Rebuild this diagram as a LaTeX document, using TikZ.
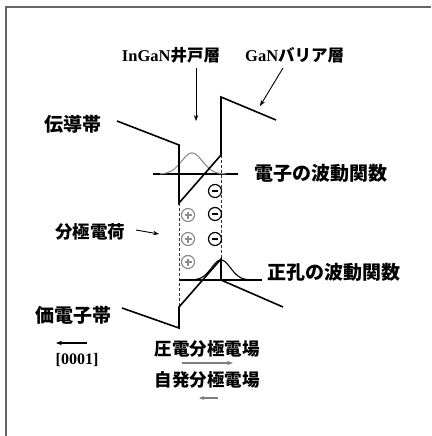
\documentclass[tikz,border=0pt]{standalone}
\usepackage{fontspec}
\setmainfont{Liberation Serif}
\newfontfamily\jp{Noto Sans CJK JP}
\usetikzlibrary{arrows.meta,calc}
\tikzset{
  band/.style={line width=1.6pt, black, line join=miter},
  guide/.style={line width=0.8pt, dashed, dash pattern=on 3pt off 2pt, black!80},
  lbl/.style={inner sep=0pt, font=\jp\bfseries\fontsize{19}{19}\selectfont},
  lblsm/.style={inner sep=0pt, font=\jp\bfseries\fontsize{17.5}{17.5}\selectfont},
  toplbl/.style={inner sep=0pt, font=\bfseries\fontsize{16.5}{16.5}\selectfont},
  ptr/.style={line width=0.9pt, -{Stealth[length=6pt,width=4.5pt]}},
  negcirc/.style={circle, draw=black, line width=1.2pt, minimum size=13pt, inner sep=0pt},
  poscirc/.style={circle, draw=black!45, line width=1.2pt, minimum size=13pt, inner sep=0pt},
}
\begin{document}
\begin{tikzpicture}[x=1pt,y=-1pt]
\useasboundingbox (0,0) rectangle (431,436);
% frame (left and top edges)
\draw[black!60, line width=1.6pt] (6,436) -- (6,7) -- (431,7);

% labels
\node[toplbl] (ingan) at (171,55) {InGaN{\jp 井戸層}};
\node[toplbl, anchor=west] (gan) at (245,55) {GaN{\jp バリア層}};
\node[lbl] (cb) at (72.5,124) {伝導帯};
\node[lbl, anchor=west] (ewf) at (254,173) {電子の波動関数};
\node[lblsm, anchor=west] (pc) at (55,232) {分極電荷};
\node[lbl, anchor=west] (hwf) at (267,272) {正孔の波動関数};
\node[lbl, anchor=west] (vb) at (35,315) {価電子帯};
\node[inner sep=0pt, font=\bfseries\fontsize{16}{16}\selectfont] (dir) at (77,360) {[0001]};
\node[lblsm] (pz) at (207,349) {圧電分極電場};
\node[lblsm] (sp) at (207,380) {自発分極電場};

% arrow coordinates
\coordinate (a1s) at (196,68);  \coordinate (a1e) at (196,121);
\coordinate (a2s) at (283,68);  \coordinate (a2e) at (260,106);
\coordinate (a3s) at (136,230); \coordinate (a3e) at (159,234);
\coordinate (a4s) at (87,343);  \coordinate (a4e) at (56,343);
\coordinate (a5s) at (182,363); \coordinate (a5e) at (233,363);
\coordinate (a6s) at (218,398); \coordinate (a6e) at (199,398);

\draw[ptr] (a1s) -- (a1e);
\draw[ptr] (a2s) -- (a2e);
\draw[ptr] (a3s) -- (a3e);
\draw[ptr, line width=1.3pt] (a4s) -- (a4e);
\draw[ptr, black!50, line width=1.3pt] (a5s) -- (a5e);
\draw[ptr, black!50, line width=1.1pt, -{Stealth[length=5pt,width=4pt]}] (a6s) -- (a6e);

% dashed well boundaries
\draw[guide] (179,203) -- (179,307);
\draw[guide] (221,155) -- (221,259);

% electron wavefunction
\draw[line width=1.2pt] (153,174) -- (238,174);
\draw[black!45, line width=1.1pt, domain=160:226, samples=60, smooth]
  plot (\x, {174 - 21*exp(-((\x-192)^2)/(2*10.5^2))});

% hole wavefunction
\draw[line width=1.2pt] (179,280) -- (262,280);
\draw[black, line width=1.1pt, domain=190:252, samples=61, smooth]
  plot (\x, {280 - 20*exp(-((\x-221)^2)/(2*9.5^2))});

% conduction band
\draw[band] (117,121) -- (179,145) -- (179,203) -- (221,155) -- (221,97) -- (276,120);
% valence band
\draw[band] (122,308) -- (179,328) -- (179,307) -- (221,259) -- (221,280) -- (283,307);

% charges
\foreach \n/\y in {1/191,2/214,3/239}{
  \node[negcirc] (m\n) at (215,\y) {};
  \draw[line width=1.2pt] ($(m\n)+(-3.2,0)$) -- ($(m\n)+(3.2,0)$);
}
\foreach \n/\y in {1/215,2/239,3/262}{
  \node[poscirc] (p\n) at (188,\y) {};
  \draw[black!45, line width=1.2pt] ($(p\n)+(-3.5,0)$) -- ($(p\n)+(3.5,0)$);
  \draw[black!45, line width=1.2pt] ($(p\n)+(0,-3.5)$) -- ($(p\n)+(0,3.5)$);
}
\end{tikzpicture}
\end{document}
